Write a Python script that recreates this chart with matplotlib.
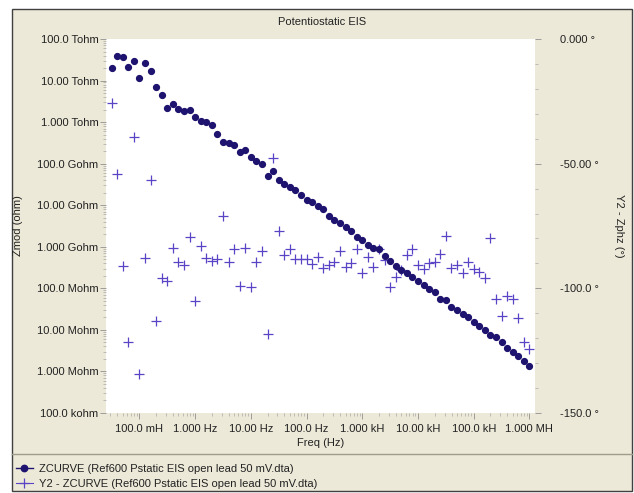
import matplotlib
matplotlib.use("Agg")
import matplotlib.pyplot as plt
from matplotlib.lines import Line2D
from matplotlib.patches import Rectangle
from matplotlib.ticker import FixedLocator, FuncFormatter, LogLocator, MultipleLocator, NullFormatter

plt.rcParams["font.family"] = ["Liberation Sans", "DejaVu Sans"]
plt.rcParams["font.size"] = 8

# frequency sweep, Hz (10 points per decade)
freq = [
    0.03162, 0.03981, 0.05012, 0.06310, 0.07943,
    0.1000, 0.1259, 0.1585, 0.1995, 0.2512, 0.3162, 0.3981, 0.5012, 0.6310, 0.7943,
    1.000, 1.259, 1.585, 1.995, 2.512, 3.162, 3.981, 5.012, 6.310, 7.943,
    10.00, 12.59, 15.85, 19.95, 25.12, 31.62, 39.81, 50.12, 63.10, 79.43,
    100.0, 125.9, 158.5, 199.5, 251.2, 316.2, 398.1, 501.2, 631.0, 794.3,
    1000, 1259, 1585, 1995, 2512, 3162, 3981, 5012, 6310, 7943,
    1.000e4, 1.259e4, 1.585e4, 1.995e4, 2.512e4, 3.162e4, 3.981e4, 5.012e4, 6.310e4, 7.943e4,
    1.000e5, 1.259e5, 1.585e5, 1.995e5, 2.512e5, 3.162e5, 3.981e5, 5.012e5, 6.310e5, 7.943e5,
    1.000e6,
]

# impedance modulus, ohm
zmod = [
    2.0e13, 4.0e13, 3.7e13, 2.1e13, 3.0e13,
    1.17e13, 2.7e13, 1.7e13, 7.1e12, 4.5e12, 2.2e12, 2.75e12, 2.1e12, 1.86e12, 1.95e12,
    1.35e12, 1.07e12, 9.8e11, 8.5e11, 5.1e11, 3.3e11, 3.1e11, 2.75e11, 1.9e11, 2.15e11,
    1.48e11, 1.17e11, 9.8e10, 5.1e10, 6.6e10, 4.1e10, 3.2e10, 2.75e10, 2.35e10, 1.78e10,
    1.35e10, 1.17e10, 9.8e9, 8.1e9, 5.6e9, 4.5e9, 3.7e9, 2.95e9, 2.35e9, 1.7e9,
    1.48e9, 1.12e9, 9.5e8, 8.9e8, 5.9e8, 4.5e8, 3.4e8, 2.8e8, 2.4e8, 1.86e8,
    1.51e8, 1.17e8, 9.8e7, 8.1e7, 5.4e7, 5.1e7, 3.5e7, 2.95e7, 2.45e7, 2.0e7,
    1.58e7, 1.26e7, 9.8e6, 7.6e6, 6.8e6, 5.2e6, 3.6e6, 2.9e6, 2.4e6, 1.74e6,
    1.32e6,
]

# impedance phase, degrees
zphz = [
    -25.8, -54.3, -91.0, -121.4, -39.2,
    -134.5, -88.0, -56.6, -113.0, -95.7, -96.9, -83.8, -89.3, -90.6, -79.5,
    -105.0, -83.0, -88.0, -89.0, -88.4, -71.0, -89.3, -84.1, -98.9, -83.8,
    -99.5, -89.3, -85.0, -118.4, -47.9, -77.0, -86.6, -84.2, -88.4, -88.4,
    -88.4, -90.2, -87.3, -92.0, -90.6, -89.6, -85.0, -91.6, -90.0, -84.4,
    -94.0, -87.3, -91.3, -84.2, -88.6, -99.4, -95.3, -92.5, -86.6, -84.4,
    -90.6, -92.4, -89.7, -89.3, -86.4, -79.0, -92.0, -90.6, -93.7, -89.3,
    -92.4, -93.3, -96.0, -80.0, -104.4, -111.1, -103.1, -104.4, -112.0, -121.4,
    -124.5,
]

dot_color = "#1e136e"
cross_color = "#5b43c6"
panel = "#ece9d8"
W, H = 634, 493

fig = plt.figure(figsize=(W / 100, H / 100), dpi=100, facecolor="white")
fig.patches.append(Rectangle((12 / W, 1 - 491 / H), 620 / W, 482 / H, transform=fig.transFigure,
                             facecolor=panel, edgecolor="#404040", linewidth=1.0, zorder=-5))
fig.lines.append(Line2D([12 / W, 632 / W], [1 - 454 / H, 1 - 454 / H], transform=fig.transFigure,
                        color="#a09c8c", linewidth=1.0, zorder=-4))

ax = fig.add_axes([106 / W, 1 - 413 / H, 429 / W, 374 / H])
ax2 = ax.twinx()
ax.set_zorder(2)
ax2.set_zorder(1)
ax.patch.set_visible(False)
ax2.patch.set_visible(True)
ax2.patch.set_facecolor("white")

ax2.plot(freq, zphz, linestyle="none", marker="+", markersize=7, markeredgewidth=0.9, color=cross_color)
ax.plot(freq, zmod, linestyle="none", marker="o", markersize=4.2, color=dot_color)

ax.set_xscale("log")
ax.set_yscale("log")
ax.set_xlim(10 ** -1.6, 10 ** 6.1)
ax.set_ylim(1e5, 1e14)
ax2.set_ylim(-150, 0)


def ohm_label(v, pos):
    prefixes = [(1e12, "T"), (1e9, "G"), (1e6, "M"), (1e3, "k")]
    for scale, p in prefixes:
        if v >= scale * 0.999:
            n = v / scale
            break
    if n >= 99.9:
        s = "%.1f" % n
    elif n >= 9.99:
        s = "%.2f" % n
    else:
        s = "%.3f" % n
    return "%s %sohm" % (s, p)


def hz_label(v, pos):
    if v < 0.999:
        return "%.1f mH" % (v * 1000)
    for scale, p in [(1e6, "MH"), (1e3, "kH"), (1, "Hz")]:
        if v >= scale * 0.999:
            n = v / scale
            break
    if n >= 99.9:
        s = "%.1f" % n
    elif n >= 9.99:
        s = "%.2f" % n
    else:
        s = "%.3f" % n
    return "%s %s" % (s, p)


def deg_label(v, pos):
    if v == 0:
        return "0.000 °"
    if abs(v) >= 99.9:
        return "%.1f °" % v
    return "%.2f °" % v


ax.yaxis.set_major_locator(FixedLocator([10.0 ** k for k in range(5, 15)]))
ax.yaxis.set_minor_locator(LogLocator(base=10, subs=range(2, 10), numticks=30))
ax.yaxis.set_major_formatter(FuncFormatter(ohm_label))
ax.yaxis.set_minor_formatter(NullFormatter())
ax.xaxis.set_major_locator(FixedLocator([10.0 ** k for k in range(-1, 7)]))
ax.xaxis.set_minor_locator(LogLocator(base=10, subs=range(2, 10), numticks=30))
ax.xaxis.set_major_formatter(FuncFormatter(hz_label))
ax.xaxis.set_minor_formatter(NullFormatter())
ax2.yaxis.set_major_locator(MultipleLocator(50))
ax2.yaxis.set_minor_locator(MultipleLocator(10))
ax2.yaxis.set_major_formatter(FuncFormatter(deg_label))

for a in (ax, ax2):
    for sp in a.spines.values():
        sp.set_visible(False)
    a.tick_params(which="major", direction="out", length=4, width=0.6, color="#909090",
                  labelcolor="#222222", labelsize=8, pad=1.5)
    a.tick_params(which="minor", direction="out", length=2.5, width=0.5, color="#a8a8a8")
ax2.tick_params(axis="y", which="major", pad=14)
ax.tick_params(axis="x", which="major", pad=4)

ax.set_xlabel("Freq (Hz)", fontsize=8, color="#222222", labelpad=3)
ax.set_ylabel("Zmod (ohm)", fontsize=8, color="#222222")
ax.yaxis.set_label_coords((23 - 106) / 429, 0.5)
ax2.set_ylabel("Y2 - Zphz (°)", fontsize=8, color="#222222", rotation=270, labelpad=18)
fig.text(322 / W, 1 - 22 / H, "Potentiostatic EIS", ha="center", va="center", fontsize=8, color="#222222")

handles = [
    Line2D([], [], color=dot_color, marker="o", markersize=4.6, linewidth=1.0),
    Line2D([], [], color=cross_color, marker="+", markersize=7, markeredgewidth=0.9, linewidth=0.8),
]
labels = [
    "ZCURVE (Ref600 Pstatic EIS open lead 50 mV.dta)",
    "Y2 - ZCURVE (Ref600 Pstatic EIS open lead 50 mV.dta)",
]
fig.legend(handles, labels, loc="upper left", bbox_to_anchor=(10 / W, 1 - 458 / H), frameon=False,
           fontsize=8, handlelength=1.6, handletextpad=0.5, labelspacing=0.45, borderpad=0,
           labelcolor="#222222")

fig.savefig("out.png", dpi=100, facecolor="white")
